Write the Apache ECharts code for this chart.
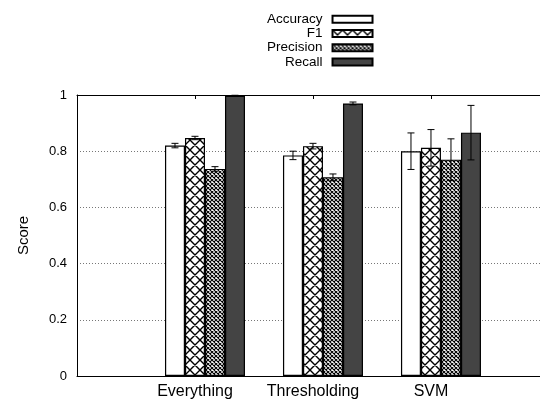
<!DOCTYPE html>
<html>
<head>
<meta charset="utf-8">
<script src="https://cdn.jsdelivr.net/npm/echarts@6/dist/echarts.min.js"></script>
<style>
html,body{margin:0;padding:0;background:#fff;}
#chart{width:540px;height:399px;}
</style>
</head>
<body>
<div id="chart"></div>
<script>
// ---- data ----
const categories = ['Everything', 'Thresholding', 'SVM'];
const metrics = ['Accuracy', 'F1', 'Precision', 'Recall'];
const accuracy = [0.820, 0.785, 0.800];
const accuracyErr = [0.008, 0.015, 0.065];
const f1 = [0.847, 0.818, 0.812];
const f1Err = [0.006, 0.010, 0.065];
const precision = [0.737, 0.707, 0.770];
const precisionErr = [0.008, 0.012, 0.074];
const recall = [0.997, 0.970, 0.866];
const recallErr = [0.002, 0.005, 0.097];
const yTicks = [0, 0.2, 0.4, 0.6, 0.8, 1];
const xMin = 0, xMax = 3.924; // category slots 1..3; plot reaches the right edge

// ---- patterns ----
function makeHatch(size, lw) {
  const c = document.createElement('canvas');
  c.width = size; c.height = size;
  const g = c.getContext('2d');
  g.fillStyle = '#fff';
  g.fillRect(0, 0, size, size);
  g.strokeStyle = '#000';
  g.lineWidth = lw;
  g.beginPath();
  for (const o of [-size, 0, size]) {
    g.moveTo(o - 1, -1); g.lineTo(o + size + 1, size + 1);
    g.moveTo(o + size + 1, -1); g.lineTo(o - 1, size + 1);
  }
  g.stroke();
  return c;
}
const f1Pattern = { image: makeHatch(10, 1.4), repeat: 'repeat' };
const precPattern = { image: makeHatch(4, 1.1), repeat: 'repeat' };

const values = [accuracy, f1, precision, recall];
const errs = [accuracyErr, f1Err, precisionErr, recallErr];
const fills = ['#ffffff', f1Pattern, precPattern, '#444444'];
const BAR_W = 20;

function catLabel(v) {
  const r = Math.round(v);
  if (Math.abs(v - r) > 1e-6) return '';
  return categories[r - 1] || '';
}

const barSeries = [{
  name: '_pad', type: 'bar', barWidth: BAR_W, barGap: '0%',
  data: categories.map((c, j) => [j + 1, null]), silent: true
}];
metrics.forEach((m, i) => {
  barSeries.push({
    name: m, type: 'bar', barWidth: BAR_W, barGap: '0%',
    data: categories.map((c, j) => [j + 1, values[i][j]]),
    itemStyle: { color: fills[i], borderColor: '#000', borderWidth: 1.2 },
    z: 2
  });
});

const errData = [];
metrics.forEach((m, i) => {
  categories.forEach((c, j) => {
    errData.push([j + 1, values[i][j], errs[i][j], i]);
  });
});

const errSeries = {
  type: 'custom', name: 'err', z: 10, silent: true,
  data: errData,
  renderItem: function (params, api) {
    const cat = api.value(0), v = api.value(1), e = api.value(2), m = api.value(3);
    const cx = api.coord([cat, 0])[0] + (m - 1) * BAR_W;
    const top = api.coord([cat, v + e])[1];
    const bot = api.coord([cat, v - e])[1];
    const h = 3.5;
    const st = { stroke: '#000', lineWidth: 1 };
    return {
      type: 'group',
      children: [
        { type: 'line', shape: { x1: cx, y1: top, x2: cx, y2: bot }, style: st },
        { type: 'line', shape: { x1: cx - h, y1: top, x2: cx + h, y2: top }, style: st },
        { type: 'line', shape: { x1: cx - h, y1: bot, x2: cx + h, y2: bot }, style: st }
      ]
    };
  }
};

const chart = echarts.init(document.getElementById('chart'), null, { renderer: 'canvas' });
const FONT = 'Liberation Sans, Helvetica, Arial, sans-serif';
chart.setOption({
  animation: false,
  backgroundColor: '#fff',
  textStyle: { fontFamily: FONT },
  grid: { left: 77, top: 95, bottom: 23, right: 0, containLabel: false, outerBoundsMode: 'none' },
  legend: {
    data: metrics,
    orient: 'vertical',
    align: 'right',
    left: 267, top: 12,
    padding: 0,
    itemGap: 0,
    itemWidth: 40, itemHeight: 7,
    icon: 'rect',
    textStyle: { fontFamily: FONT, fontSize: 13.5, color: '#000', lineHeight: 14.3, padding: [0, 5, 0, 0] }
  },
  xAxis: [{
    type: 'value', min: xMin, max: xMax, interval: 1, position: 'bottom',
    axisLine: { lineStyle: { color: '#000', width: 1 } },
    axisTick: { show: false },
    axisLabel: { color: '#000', fontSize: 16, margin: 8, fontFamily: FONT, formatter: catLabel },
    splitLine: { show: false }
  }, {
    type: 'value', min: xMin, max: xMax, interval: 1, position: 'top',
    axisLine: { lineStyle: { color: '#000', width: 1 } },
    axisTick: { show: true, inside: true, length: 4, lineStyle: { color: '#000' } },
    axisLabel: { show: false },
    splitLine: { show: false }
  }],
  yAxis: {
    type: 'value', min: yTicks[0], max: yTicks[yTicks.length - 1], interval: 0.2,
    name: 'Score', nameLocation: 'middle', nameRotate: 90, nameGap: 46,
    nameTextStyle: { fontSize: 15, color: '#000', fontFamily: FONT },
    axisLine: { show: true, lineStyle: { color: '#000', width: 1 } },
    axisTick: { show: false },
    axisLabel: { color: '#000', fontSize: 13, margin: 10, fontFamily: FONT,
      formatter: function (v) { return String(+v.toFixed(1)); } },
    splitLine: { show: true, lineStyle: { color: '#777', type: [1, 2], width: 1 } }
  },
  series: barSeries.concat([errSeries])
});
</script>
</body>
</html>
